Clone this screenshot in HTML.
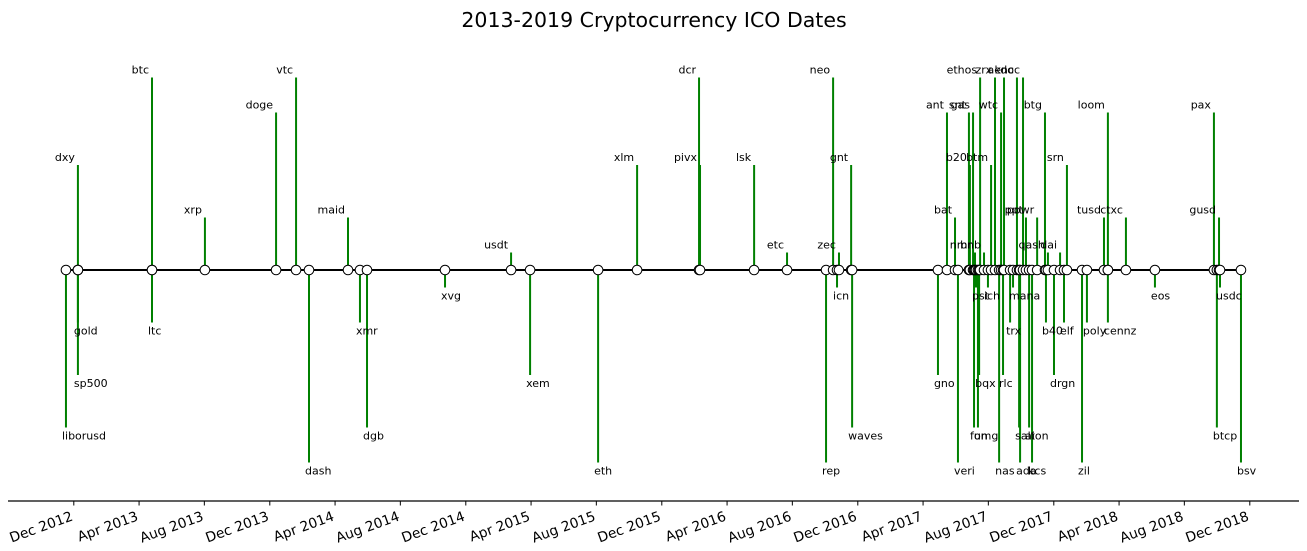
<!DOCTYPE html>
<html><head><meta charset="utf-8"><style>
html,body{margin:0;padding:0;background:#fff;}
svg{display:block;font-family:"DejaVu Sans","Liberation Sans",sans-serif;}
</style></head><body>
<svg id="chart" width="1307" height="551" viewBox="0 0 1307 551" xmlns="http://www.w3.org/2000/svg">
<rect width="1307" height="551" fill="#fff"/>
<text x="654" y="27" text-anchor="middle" font-size="20.5" fill="#000">2013-2019 Cryptocurrency ICO Dates</text>
<g id="stems"></g><g id="baseline"></g><g id="markers"></g><g id="labels"></g><g id="xaxis"></g>
</svg>
<script>
const names = ["liborusd","dxy","gold","sp500","btc","ltc","xrp","doge","vtc","dash","maid","xmr","dgb","xvg","usdt","xem","eth","xlm","dcr","pivx","lsk","etc","rep","neo","icn","zec","gnt","waves","gno","ant","bat","veri","snt","b20","gas","fun","nmr","pst","omg","bqx","ethos","bnb","ich","btm","zrx","nas","wtc","rlc","ae","trx","mana","knc","salt","ada","doc","ppt","aion","kcs","powr","btg","b40","qash","drgn","dai","elf","srn","zil","poly","tusd","loom","cennz","ctxc","eos","pax","btcp","gusd","usdc","bsv"];
const dates = [2012.877,2012.938,2012.938,2012.938,2013.316,2013.316,2013.586,2013.949,2014.051,2014.117,2014.316,2014.377,2014.413,2014.811,2015.148,2015.245,2015.592,2015.791,2016.107,2016.112,2016.388,2016.556,2016.755,2016.791,2016.811,2016.821,2016.883,2016.888,2017.326,2017.372,2017.413,2017.428,2017.484,2017.489,2017.505,2017.510,2017.515,2017.520,2017.530,2017.536,2017.541,2017.561,2017.581,2017.597,2017.617,2017.638,2017.648,2017.658,2017.663,2017.694,2017.709,2017.729,2017.740,2017.745,2017.760,2017.775,2017.791,2017.806,2017.832,2017.872,2017.877,2017.887,2017.918,2017.949,2017.969,2017.984,2018.061,2018.086,2018.173,2018.193,2018.193,2018.285,2018.433,2018.734,2018.749,2018.760,2018.765,2018.872];
const levels = [-9,6,-3,-6,11,-3,3,9,11,-11,3,-3,-9,-1,1,-6,-11,6,11,6,6,1,-11,11,-1,1,6,-9,-6,9,3,-11,9,6,9,-9,1,-1,-9,-6,11,1,-1,6,11,-11,9,-6,11,-3,-1,11,-9,-11,11,3,-9,-11,3,9,-3,1,-6,1,-3,6,-11,-3,3,9,-3,3,-1,9,-9,3,-1,-11];
const tickLabels = ["Dec 2012","Apr 2013","Aug 2013","Dec 2013","Apr 2014","Aug 2014","Dec 2014","Apr 2015","Aug 2015","Dec 2015","Apr 2016","Aug 2016","Dec 2016","Apr 2017","Aug 2017","Dec 2017","Apr 2018","Aug 2018","Dec 2018"];
const tickYears = [2012.917,2013.25,2013.583,2013.917,2014.25,2014.583,2014.917,2015.25,2015.583,2015.917,2016.25,2016.583,2016.917,2017.25,2017.583,2017.917,2018.25,2018.583,2018.917];

const NS="http://www.w3.org/2000/svg";
const X0=73.8, YR0=2012.917, PXY=196, BASE=270, UNIT=17.5;
function xs(y){return X0+(y-YR0)*PXY;}
function ys(l){return BASE-l*UNIT;}
function mk(tag,attrs,parent){const e=document.createElementNS(NS,tag);for(const k in attrs)e.setAttribute(k,attrs[k]);parent.appendChild(e);return e;}
const gS=document.getElementById('stems'),gB=document.getElementById('baseline'),gM=document.getElementById('markers'),gL=document.getElementById('labels'),gX=document.getElementById('xaxis');

names.forEach((n,i)=>{
  const x=xs(dates[i]), y=ys(levels[i]);
  const s=mk('line',{x1:x,y1:BASE,x2:x,y2:y,stroke:'#008000','stroke-width':2},gS);
  
  
  const t=mk('text',{'font-size':11,fill:'#000'},gL);
  if(levels[i]>0){t.setAttribute('x',x-3);t.setAttribute('y',y-4);t.setAttribute('text-anchor','end');}
  else{t.setAttribute('x',x-4);t.setAttribute('y',y+12);t.setAttribute('text-anchor','start');}
  t.textContent=n;
  
  
});
const minD=Math.min(...dates),maxD=Math.max(...dates);
const bl=mk('line',{x1:xs(minD),y1:BASE,x2:xs(maxD),y2:BASE,stroke:'#000','stroke-width':2},gB);


names.forEach((n,i)=>{
  const c=mk('circle',{cx:xs(dates[i]),cy:BASE,r:4.8,fill:'#fff',stroke:'#000','stroke-width':1},gM);
  
  
});
const sp=mk('line',{x1:8,y1:501,x2:1299,y2:501,stroke:'#000','stroke-width':1.2},gX);


tickLabels.forEach((lab,i)=>{
  const x=xs(tickYears[i]);
  const tk=mk('line',{x1:x,y1:501,x2:x,y2:505.5,stroke:'#000','stroke-width':1},gX);
  
  
  const t=mk('text',{x:0,y:0,'font-size':13.8,'text-anchor':'end',fill:'#000',transform:`translate(${x},${520}) rotate(-20)`},gX);
  t.textContent=lab;
  
  
});
</script>
</body></html>
